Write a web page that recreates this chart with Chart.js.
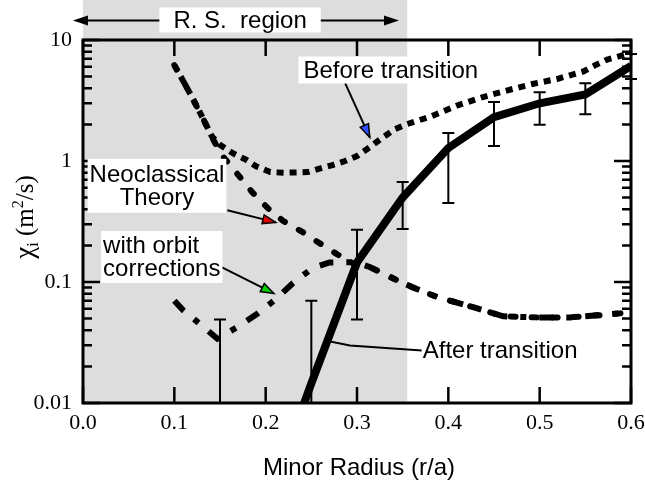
<!DOCTYPE html>
<html>
<head>
<meta charset="utf-8">
<script src="https://cdn.jsdelivr.net/npm/chart.js@4.4.1/dist/chart.umd.min.js"></script>
<style>
    html, body { margin: 0; padding: 0; background: #fff; }
</style>
</head>
<body>
<canvas id="chartChi" width="645" height="482"></canvas>
<script>
// Chi_i profile vs minor radius (log scale)

// Before transition (square dots)
const rBefore = [0.100, 0.111, 0.122, 0.132, 0.141, 0.150, 0.164, 0.178, 0.190, 0.205, 0.220, 0.246, 0.260, 0.274, 0.287, 0.300, 0.314, 0.329, 0.342, 0.355, 0.382, 0.411, 0.438, 0.466, 0.492, 0.519, 0.548, 0.561, 0.574, 0.600];
const chiBefore = [6.2, 4.4, 3.1, 2.2, 1.6, 1.36, 1.16, 1.03, 0.90, 0.81, 0.80, 0.81, 0.87, 0.93, 1.0, 1.1, 1.3, 1.58, 1.84, 2.02, 2.35, 2.9, 3.38, 3.86, 4.33, 4.76, 5.5, 6.2, 6.9, 7.8];

// Neoclassical theory
const rNeo = [0.100, 0.111, 0.132, 0.141, 0.152, 0.168, 0.185, 0.202, 0.219, 0.240, 0.257, 0.278, 0.294, 0.314, 0.343, 0.360, 0.388, 0.424, 0.460, 0.497, 0.533, 0.563, 0.600];
const chiNeo = [6.2, 4.4, 2.2, 1.58, 1.12, 0.80, 0.555, 0.41, 0.32, 0.26, 0.214, 0.17, 0.144, 0.133, 0.104, 0.091, 0.075, 0.063, 0.052, 0.051, 0.051, 0.053, 0.056];

// Neoclassical with orbit corrections
const rOrbit = [0.100, 0.110, 0.128, 0.147, 0.168, 0.190, 0.210, 0.230, 0.251, 0.270, 0.298, 0.314, 0.343, 0.360, 0.388, 0.424, 0.460, 0.497, 0.533, 0.563, 0.600];
const chiOrbit = [0.070, 0.058, 0.045, 0.034, 0.042, 0.054, 0.071, 0.098, 0.13, 0.145, 0.146, 0.133, 0.104, 0.091, 0.075, 0.063, 0.052, 0.051, 0.051, 0.053, 0.056];

// After transition (solid) + error bars
const rAfter = [0.24, 0.25, 0.30, 0.35, 0.40, 0.45, 0.50, 0.55, 0.60];
const chiAfter = [0.009, 0.0145, 0.145, 0.50, 1.28, 2.3, 3.0, 3.55, 6.1];
const rErr = [0.15, 0.25, 0.30, 0.35, 0.40, 0.45, 0.50, 0.55, 0.60];
const errLow = [0.003, 0.003, 0.049, 0.274, 0.45, 1.33, 1.99, 2.44, 4.76];
const errHigh = [0.049, 0.07, 0.27, 0.67, 1.70, 3.07, 3.7, 4.4, 7.66];

// axes
const xTicks = [0.0, 0.1, 0.2, 0.3, 0.4, 0.5, 0.6];
const yTicks = [0.01, 0.1, 1, 10];
const yTickLabels = ['0.01', '0.1', '1', '10'];
const rsRegion = [0, 0.355];

const SERIF = '"Liberation Serif", "Times New Roman", serif';
const SANS = '"Liberation Sans", Arial, sans-serif';

// annotations (positions in data units)
const notes = [
    { lines: ['Before transition'], x: 0.337, y: 5.65, align: 'center', padX: 5, padY: 2,
      from: [0.287, 4.4], to: [0.314, 1.57], head: '#3050ff' },
    { lines: ['Neoclassical', 'Theory'], x: 0.081, y: 0.624, align: 'center', padX: 2, padY: 4,
      from: [0.158, 0.392], to: [0.211, 0.311], head: '#e00000' },
    { lines: ['with orbit', 'corrections'], x: 0.022, y: 0.161, align: 'left', padX: 2, padY: 3,
      from: [0.150, 0.1346], to: [0.209, 0.0805], head: '#00d000' },
    { lines: ['After transition'], x: 0.372, y: 0.0272, align: 'left', padX: 1, padY: 1,
      path: [[0.2705, 0.0322], [0.2923, 0.0299], [0.371, 0.0272]] }
];

function toXY(arrX, arrY) {
    return arrX.map((v, i) => ({ x: v, y: arrY[i] }));
}

function arrowHead(ctx, fx, fy, tx, ty, len, half, fill, outline) {
    const a = Math.atan2(ty - fy, tx - fx);
    const bx = tx - len * Math.cos(a), by = ty - len * Math.sin(a);
    ctx.beginPath();
    ctx.moveTo(tx, ty);
    ctx.lineTo(bx + half * Math.sin(a), by - half * Math.cos(a));
    ctx.lineTo(bx - half * Math.sin(a), by + half * Math.cos(a));
    ctx.closePath();
    ctx.fillStyle = fill;
    ctx.fill();
    if (outline) {
        ctx.lineWidth = 1.5;
        ctx.strokeStyle = '#000';
        ctx.stroke();
    }
}

const decorPlugin = {
    id: 'decor',
    beforeDraw(chart) {
        // shaded R.S. region
        const { ctx, chartArea, scales: { x } } = chart;
        const x0 = x.getPixelForValue(rsRegion[0]);
        const x1 = x.getPixelForValue(rsRegion[1]);
        ctx.save();
        ctx.fillStyle = '#dddddd';
        ctx.fillRect(x0, 0, x1 - x0, chartArea.bottom);
        ctx.restore();
    },
    afterDatasetsDraw(chart) {
        // error bars
        const { ctx, chartArea, scales: { x, y } } = chart;
        ctx.save();
        ctx.beginPath();
        ctx.rect(chartArea.left, chartArea.top - 10, chartArea.right - chartArea.left + 10, chartArea.bottom - chartArea.top + 10);
        ctx.clip();
        ctx.strokeStyle = '#000';
        ctx.lineWidth = 2;
        rErr.forEach((r, i) => {
            const px = x.getPixelForValue(r);
            const pl = y.getPixelForValue(errLow[i]);
            const ph = y.getPixelForValue(errHigh[i]);
            ctx.beginPath();
            ctx.moveTo(px, pl); ctx.lineTo(px, ph);
            ctx.moveTo(px - 6, pl); ctx.lineTo(px + 6, pl);
            ctx.moveTo(px - 6, ph); ctx.lineTo(px + 6, ph);
            ctx.stroke();
        });
        ctx.restore();
    },
    afterDraw(chart) {
        const { ctx, chartArea: ca, scales: { x, y } } = chart;
        ctx.save();

        // frame
        ctx.strokeStyle = '#000';
        ctx.lineWidth = 3;
        ctx.strokeRect(ca.left, ca.top, ca.right - ca.left, ca.bottom - ca.top);

        // x ticks (bottom + top, inward)
        ctx.lineWidth = 2.5;
        xTicks.forEach(v => {
            const px = x.getPixelForValue(v);
            ctx.beginPath();
            ctx.moveTo(px, ca.bottom); ctx.lineTo(px, ca.bottom - 16);
            ctx.moveTo(px, ca.top); ctx.lineTo(px, ca.top + 16);
            ctx.stroke();
        });

        // y ticks, major + minor, both sides
        for (let d = 0; d < yTicks.length; d++) {
            const py = y.getPixelForValue(yTicks[d]);
            ctx.beginPath();
            ctx.moveTo(ca.left, py); ctx.lineTo(ca.left + 17, py);
            ctx.moveTo(ca.right, py); ctx.lineTo(ca.right - 17, py);
            ctx.stroke();
            if (d < yTicks.length - 1) {
                for (let m = 2; m <= 9; m++) {
                    const pm = y.getPixelForValue(yTicks[d] * m);
                    ctx.beginPath();
                    ctx.moveTo(ca.left, pm); ctx.lineTo(ca.left + 9, pm);
                    ctx.moveTo(ca.right, pm); ctx.lineTo(ca.right - 9, pm);
                    ctx.stroke();
                }
            }
        }

        // R.S. region double arrow + label
        const rsY = y.getPixelForValue(14.5);
        const ax0 = x.getPixelForValue(-0.011), ax1 = x.getPixelForValue(0.346);
        ctx.lineWidth = 2;
        ctx.beginPath();
        ctx.moveTo(ax0 + 10, rsY); ctx.lineTo(ax1 - 10, rsY);
        ctx.stroke();
        arrowHead(ctx, ax1, rsY, ax0, rsY, 15, 5, '#000', false);
        arrowHead(ctx, ax0, rsY, ax1, rsY, 15, 5, '#000', false);
        ctx.font = '24px ' + SANS;
        const rsText = 'R. S.  region';
        const rsW = ctx.measureText(rsText).width;
        const rsCx = x.getPixelForValue(0.172);
        ctx.fillStyle = '#fff';
        ctx.fillRect(rsCx - rsW / 2 - 14, rsY - 13, rsW + 28, 25);
        ctx.fillStyle = '#000';
        ctx.textAlign = 'center';
        ctx.textBaseline = 'middle';
        ctx.fillText(rsText, rsCx, rsY + 1);

        // annotations
        notes.forEach(n => {
            ctx.font = '24px ' + SANS;
            const lh = 23;
            const w = Math.max(...n.lines.map(t => ctx.measureText(t).width));
            const h = n.lines.length * lh;
            const cx = x.getPixelForValue(n.x), cy = y.getPixelForValue(n.y);
            const left = n.align === 'center' ? cx - w / 2 : cx;
            // leader / arrow first so box sits on top of its tail
            ctx.strokeStyle = '#000';
            ctx.lineWidth = 2;
            if (n.path) {
                ctx.beginPath();
                n.path.forEach((p, i) => {
                    const px = x.getPixelForValue(p[0]), py = y.getPixelForValue(p[1]);
                    if (i === 0) ctx.moveTo(px, py); else ctx.lineTo(px, py);
                });
                ctx.stroke();
            }
            if (n.from) {
                const fx = x.getPixelForValue(n.from[0]), fy = y.getPixelForValue(n.from[1]);
                const tx = x.getPixelForValue(n.to[0]), ty = y.getPixelForValue(n.to[1]);
                ctx.beginPath();
                ctx.moveTo(fx, fy); ctx.lineTo(tx, ty);
                ctx.stroke();
                arrowHead(ctx, fx, fy, tx, ty, 13, 4.5, n.head, true);
            }
            ctx.fillStyle = '#fff';
            ctx.fillRect(left - n.padX, cy - h / 2 - n.padY, w + 2 * n.padX, h + 2 * n.padY);
            ctx.fillStyle = '#000';
            ctx.textBaseline = 'middle';
            n.lines.forEach((t, i) => {
                const ly = cy - h / 2 + lh * (i + 0.5) + 1;
                if (n.align === 'center') {
                    ctx.textAlign = 'center';
                    ctx.fillText(t, cx, ly);
                } else {
                    ctx.textAlign = 'left';
                    ctx.fillText(t, left, ly);
                }
            });
        });

        // x axis title
        ctx.font = '24px ' + SANS;
        ctx.textAlign = 'center';
        ctx.textBaseline = 'alphabetic';
        ctx.fillStyle = '#000';
        ctx.fillText('Minor Radius (r/a)', (ca.left + ca.right) / 2 + 2, 475);

        // y axis title: chi_i (m^2/s), rotated
        const parts = [
            { t: 'χ', size: 27, dy: 0 },
            { t: 'i', size: 16, dy: 5 },
            { t: ' (m', size: 25, dy: 0 },
            { t: '2', size: 16, dy: -10 },
            { t: '/s)', size: 25, dy: 0 }
        ];
        let total = 0;
        parts.forEach(p => { ctx.font = p.size + 'px ' + SERIF; p.w = ctx.measureText(p.t).width; total += p.w; });
        ctx.translate(26, 217);
        ctx.rotate(-Math.PI / 2);
        ctx.textAlign = 'left';
        let cur = -total / 2;
        parts.forEach(p => {
            ctx.font = p.size + 'px ' + SERIF;
            ctx.fillText(p.t, cur, 7 + p.dy);
            cur += p.w;
        });
        ctx.restore();
    }
};

const ctx = document.getElementById('chartChi').getContext('2d');
new Chart(ctx, {
    type: 'line',
    data: {
        datasets: [
            {
                label: 'Before transition',
                data: toXY(rBefore, chiBefore),
                borderColor: '#000',
                borderWidth: 6,
                borderDash: [7, 6],
                pointRadius: 0
            },
            {
                label: 'Neoclassical Theory',
                data: toXY(rNeo, chiNeo),
                borderColor: '#000',
                borderWidth: 6,
                borderDash: [5, 16],
                borderCapStyle: 'round',
                pointRadius: 0
            },
            {
                label: 'with orbit corrections',
                data: toXY(rOrbit, chiOrbit),
                borderColor: '#000',
                borderWidth: 6,
                borderDash: [14, 13, 6, 13],
                pointRadius: 0
            },
            {
                label: 'After transition',
                data: toXY(rAfter, chiAfter),
                borderColor: '#000',
                borderWidth: 8,
                pointRadius: 0
            }
        ]
    },
    options: {
        responsive: false,
        animation: false,
        devicePixelRatio: 1,
        layout: { padding: { left: 0, top: 40, right: 14, bottom: 0 } },
        plugins: { legend: { display: false }, tooltip: { enabled: false } },
        scales: {
            x: {
                type: 'linear',
                min: 0,
                max: 0.6,
                grid: { display: false, drawTicks: false },
                border: { display: false },
                afterBuildTicks: s => { s.ticks = xTicks.map(v => ({ value: v })); },
                afterFit: s => { s.height = 79; s.paddingLeft = 0; s.paddingRight = 0; },
                ticks: {
                    color: '#000',
                    font: { family: SERIF, size: 22 },
                    padding: 7,
                    maxRotation: 0,
                    autoSkip: false,
                    callback: v => v.toFixed(1)
                }
            },
            y: {
                type: 'logarithmic',
                min: 0.01,
                max: 10,
                grid: { display: false, drawTicks: false },
                border: { display: false },
                afterBuildTicks: s => { s.ticks = yTicks.map(v => ({ value: v })); },
                afterFit: s => { s.width = 83; s.paddingTop = 0; s.paddingBottom = 0; },
                ticks: {
                    color: '#000',
                    font: { family: SERIF, size: 22 },
                    padding: 11,
                    autoSkip: false,
                    callback: v => {
                        const i = yTicks.findIndex(t => Math.abs(t - v) / t < 1e-6);
                        return i >= 0 ? yTickLabels[i] : '';
                    }
                }
            }
        }
    },
    plugins: [decorPlugin]
});
</script>
</body>
</html>
